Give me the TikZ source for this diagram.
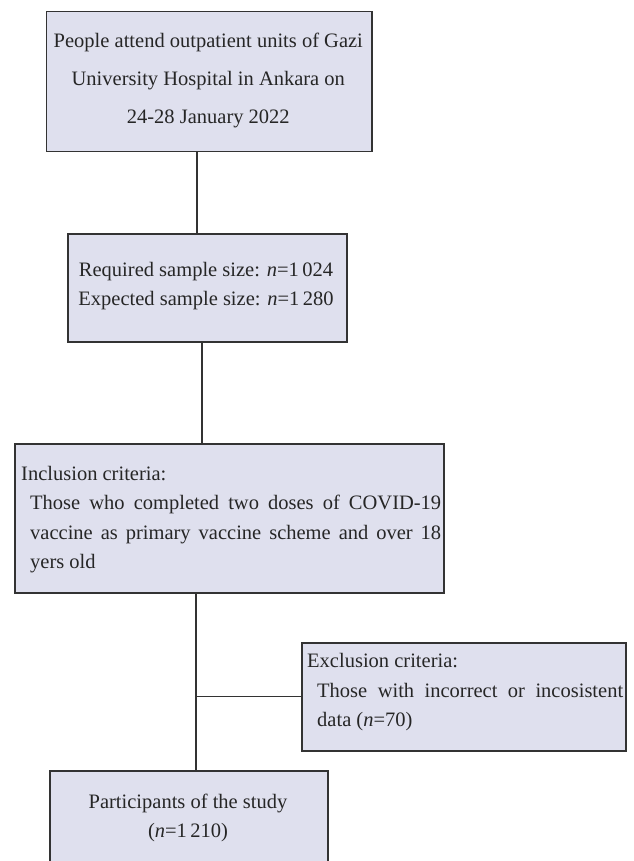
\documentclass[tikz,border=0pt]{standalone}
\usepackage{fontspec}
\setmainfont{Liberation Serif}
\definecolor{boxfill}{HTML}{DFE0EE}
\definecolor{edge}{HTML}{333333}
\begin{document}
\begin{tikzpicture}[x=1pt,y=-1pt,
  flowbox/.style={draw=edge,line width=1.5pt,fill=boxfill,rectangle,inner sep=0pt,anchor=north west},
  txt/.style={inner sep=0pt,text=black!85,font=\fontsize{20.5}{24}\selectfont},
  ctxt/.style={txt,anchor=base},
  ltxt/.style={txt,anchor=base west},
  link/.style={draw=edge,line width=1.3pt}]
\useasboundingbox (0,0) rectangle (633,861);
\clip (0,0) rectangle (633,861);
% boxes
\node[flowbox,minimum width=325.3pt,minimum height=140pt] (b1) at (45.7,11) {};
\node[flowbox,minimum width=279pt,minimum height=108pt] (b2) at (67,233) {};
\node[flowbox,minimum width=429pt,minimum height=149pt] (b3) at (14,443) {};
\node[flowbox,minimum width=324pt,minimum height=108pt] (b4) at (301,642) {};
\node[flowbox,minimum width=278pt,minimum height=140pt] (b5) at (49,770) {};
% texts box 1
\node[ctxt] (t1a) at (208.3,48) {People attend outpatient units of Gazi};
\node[ctxt] (t1b) at (208.3,86) {University Hospital in Ankara on};
\node[ctxt] (t1c) at (208.3,123.5) {24-28 January 2022};
% texts box 2
\node[ctxt] (t2a) at (206,276) {Required sample size: \textit{n}=1\,024};
\node[ctxt] (t2b) at (206,305) {Expected sample size: \textit{n}=1\,280};
% texts box 3
\node[ltxt] (t3a) at (21,480) {Inclusion criteria:};
\node[ltxt] (t3b) at (30,509) {\makebox[411pt][s]{Those who completed two doses of COVID-19}};
\node[ltxt] (t3c) at (30,539) {\makebox[411pt][s]{vaccine as primary vaccine scheme and over 18}};
\node[ltxt] (t3d) at (30,568) {yers old};
% texts box 4
\node[ltxt] (t4a) at (307,667) {Exclusion criteria:};
\node[ltxt] (t4b) at (317,697) {\makebox[306pt][s]{Those with incorrect or incosistent}};
\node[ltxt] (t4c) at (317,726) {data (\textit{n}=70)};
% texts box 5
\node[ctxt] (t5a) at (188,808) {Participants of the study};
\node[ctxt] (t5b) at (188,837) {(\textit{n}=1\,210)};
% connector columns
\coordinate (c1) at (197,0);
\coordinate (c2) at (202,0);
\coordinate (c3) at (196,0);
\draw[link] (b1.south -| c1) -- (b2.north -| c1);
\draw[link] (b2.south -| c2) -- (b3.north -| c2);
\draw[link] (b3.south -| c3) -- (b5.north -| c3);
\draw[link] (b4.west -| c3) -- (b4.west);
\end{tikzpicture}
\end{document}
